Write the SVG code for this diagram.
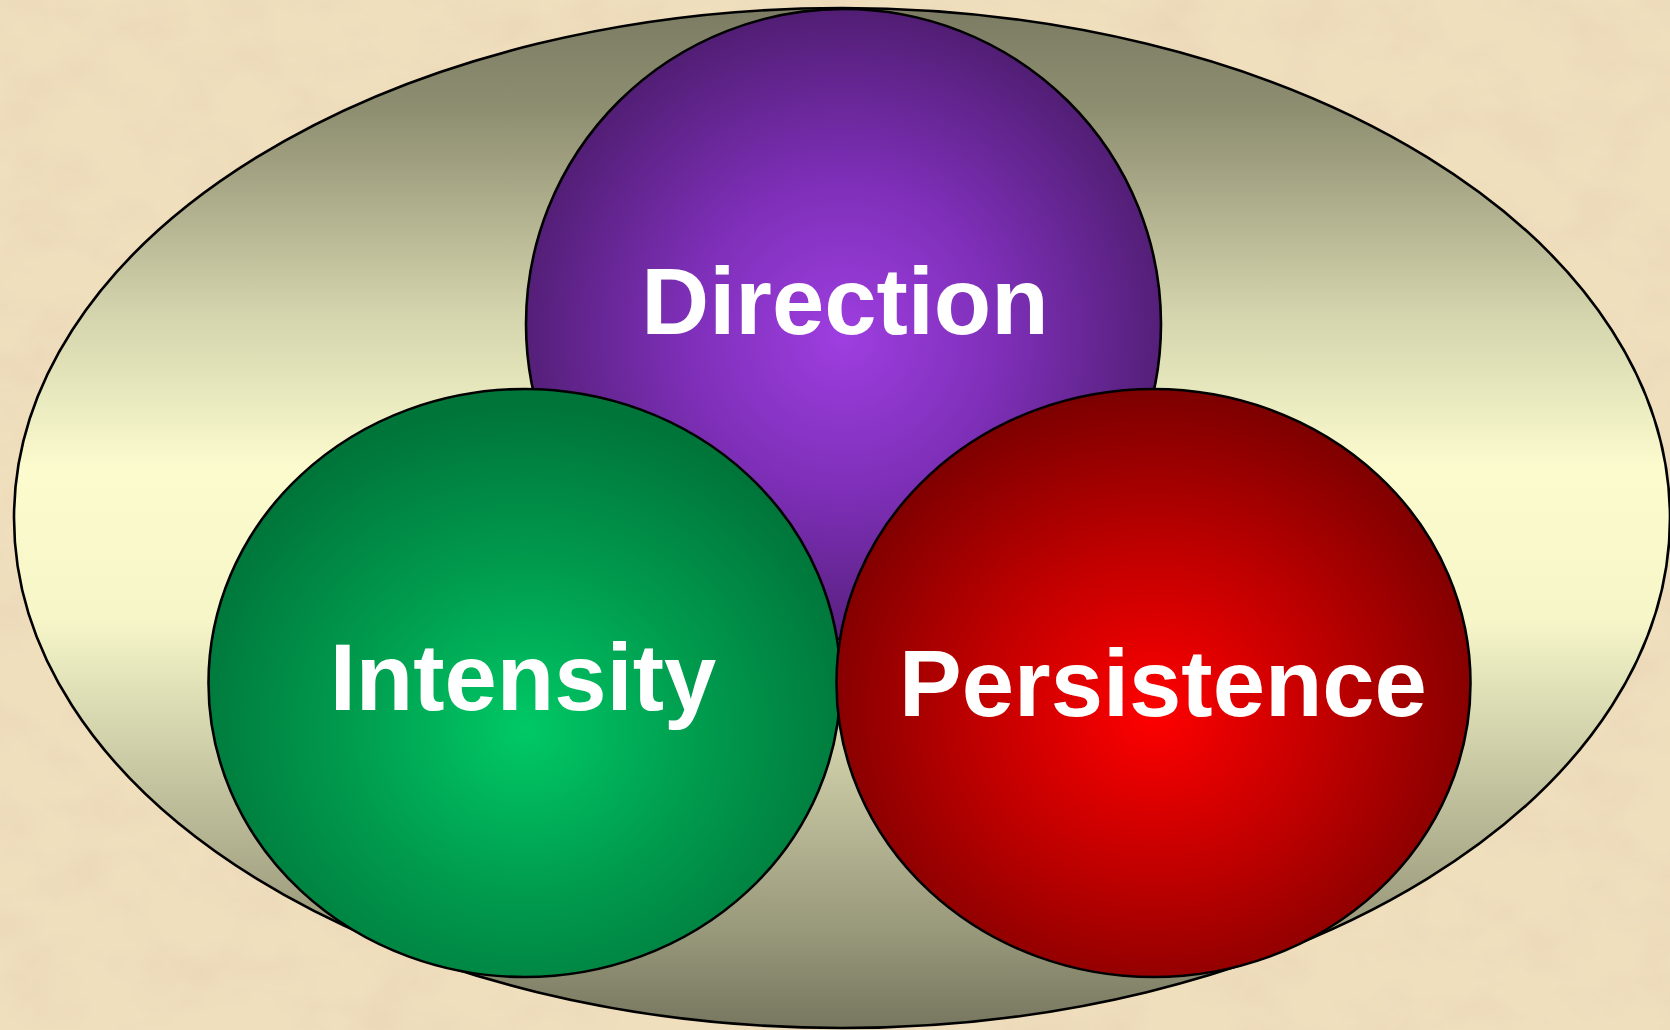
<svg xmlns="http://www.w3.org/2000/svg" width="1670" height="1030" viewBox="0 0 1670 1030">
  <style>
    .ring { stroke: #000; stroke-width: 2.6; }
    .label { font-family: "Liberation Sans", Arial, sans-serif; font-weight: bold; font-size: 94px; fill: #fff; text-anchor: middle; }
  </style>
  <defs>
    <filter id="paper" x="0" y="0" width="1670" height="1030" filterUnits="userSpaceOnUse">
      <feTurbulence type="fractalNoise" baseFrequency="0.014 0.02" numOctaves="4" seed="7"/>
      <feColorMatrix type="matrix" values="0 0 0 0 0.82  0 0 0 0 0.68  0 0 0 0 0.48  1.8 0 0 0 -0.72"/>
    </filter>
    <linearGradient id="gOuter" x1="0" y1="0" x2="0" y2="1">
      <stop offset="0" stop-color="#7c7c64"/>
      <stop offset="0.1" stop-color="#8e8e71"/>
      <stop offset="0.3" stop-color="#d4d4ad"/>
      <stop offset="0.45" stop-color="#fbfbce"/>
      <stop offset="0.6" stop-color="#f6f6c9"/>
      <stop offset="0.76" stop-color="#c4c4a0"/>
      <stop offset="0.9" stop-color="#9a9a7c"/>
      <stop offset="1" stop-color="#777760"/>
    </linearGradient>
    <radialGradient id="gPurple" cx="0.5" cy="0.52" r="0.55">
      <stop offset="0" stop-color="#9e3ee0"/>
      <stop offset="0.45" stop-color="#7e2fb8"/>
      <stop offset="1" stop-color="#4c1c6c"/>
    </radialGradient>
    <radialGradient id="gGreen" cx="0.5" cy="0.58" r="0.55">
      <stop offset="0" stop-color="#00c966"/>
      <stop offset="0.5" stop-color="#009c4e"/>
      <stop offset="1" stop-color="#00753a"/>
    </radialGradient>
    <radialGradient id="gRed" cx="0.5" cy="0.55" r="0.55">
      <stop offset="0" stop-color="#ff0000"/>
      <stop offset="0.5" stop-color="#c00000"/>
      <stop offset="1" stop-color="#7c0000"/>
    </radialGradient>
  </defs>

  <g id="background">
    <rect x="0" y="0" width="1670" height="1030" fill="#f0dfbd"/>
    <rect x="0" y="0" width="1670" height="1030" filter="url(#paper)"/>
  </g>

  <g id="outer">
    <ellipse class="ring" cx="842" cy="518" rx="828" ry="510" fill="url(#gOuter)"/>
  </g>

  <g id="direction">
    <ellipse class="ring" cx="843.5" cy="324" rx="317.5" ry="315" fill="url(#gPurple)"/>
    <text class="label" x="845" y="334">Direction</text>
  </g>

  <g id="intensity">
    <ellipse class="ring" cx="524.5" cy="683" rx="316" ry="294" fill="url(#gGreen)"/>
    <text class="label" x="523" y="710">Intensity</text>
  </g>

  <g id="persistence">
    <ellipse class="ring" cx="1153.5" cy="683" rx="317" ry="294" fill="url(#gRed)"/>
    <text class="label" x="1163" y="716">Persistence</text>
  </g>

  <g id="connectors"></g>
</svg>
